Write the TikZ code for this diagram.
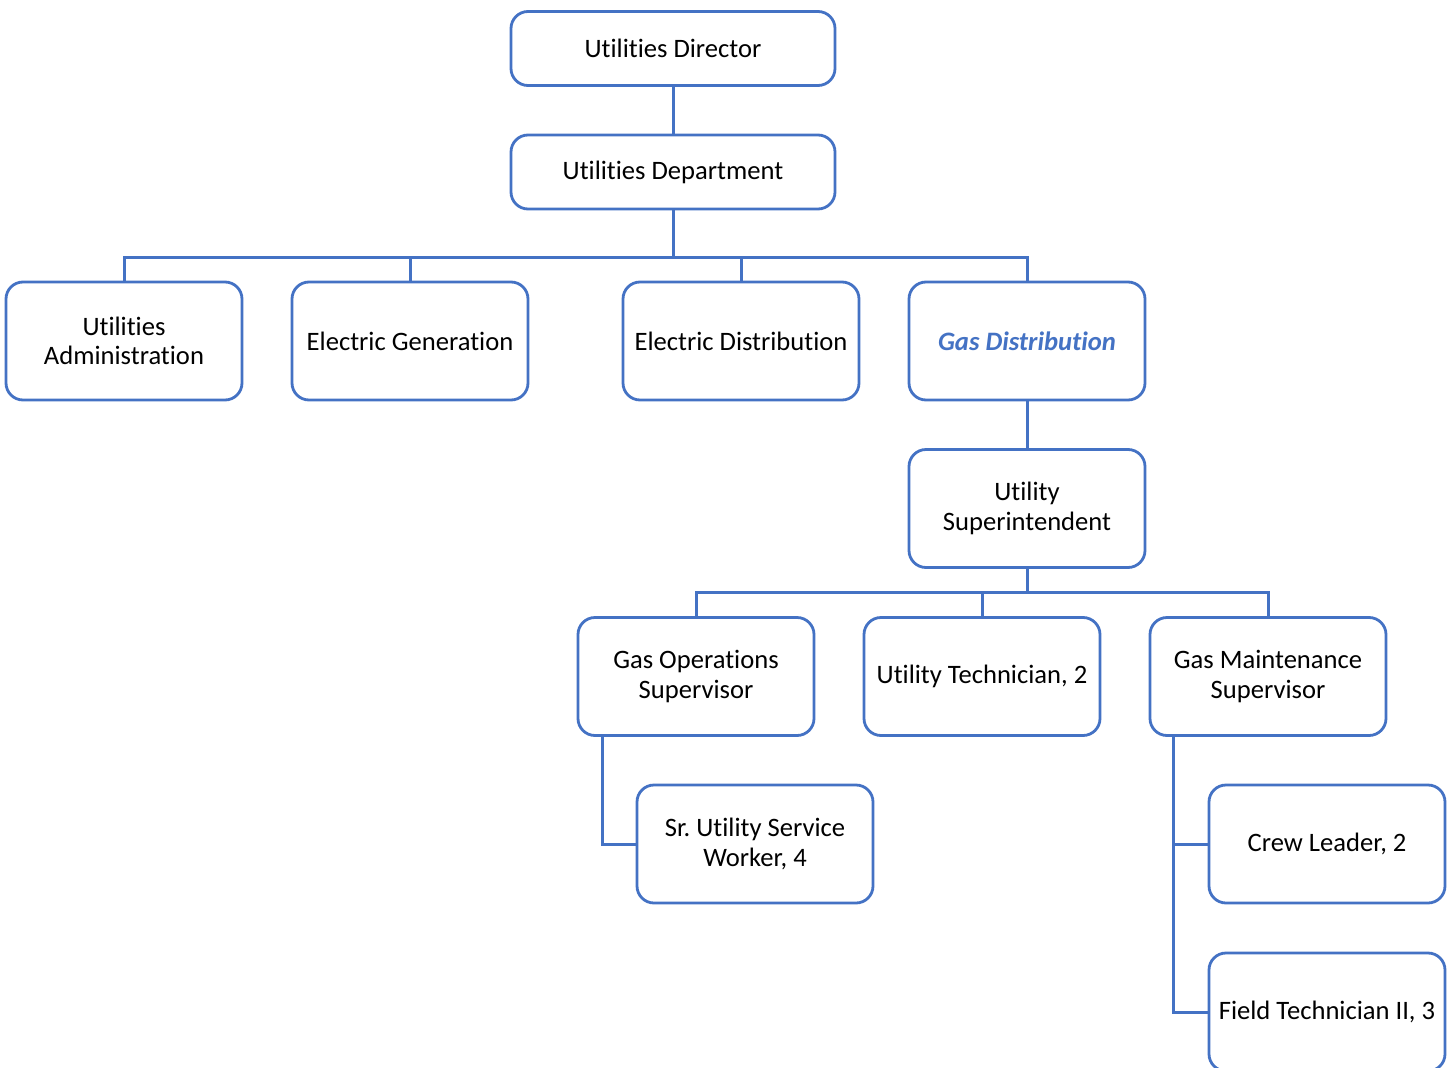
\documentclass[tikz,border=0pt]{standalone}
\usepackage{fontspec}
\setmainfont{Carlito}[Ligatures=NoCommon]
\definecolor{boxblue}{HTML}{4472C4}
\frenchspacing
\begin{document}
\begin{tikzpicture}[x=1pt,y=-1pt,
  unit/.style={draw=boxblue, line width=2.8pt, rounded corners=17pt, fill=white,
    minimum width=236pt, minimum height=118pt, align=center, inner sep=2pt,
    font=\fontsize{26.6}{29.5}\selectfont},
  topunit/.style={unit, minimum width=324pt, minimum height=74pt},
  link/.style={draw=boxblue, line width=3pt}]
\useasboundingbox (0,0) rectangle (1454,1068);

% top of the hierarchy
\node[topunit] (dir) at (673,48.5) {Utilities Director};
\node[topunit] (dept) at (673,172) {Utilities Department};

% divisions
\node[unit] (adm) at (124,341) {Utilities\\Administration};
\node[unit] (gen) at (410,341) {Electric Generation};
\node[unit] (edist) at (741,341) {Electric Distribution};
\node[unit, font=\fontsize{26.6}{29.5}\selectfont\bfseries\itshape, text=boxblue] (gas) at (1027,341) {Gas Distribution};

% gas distribution staff
\node[unit] (sup) at (1027,508.5) {Utility\\Superintendent};
\node[unit] (gops) at (696,676.5) {Gas Operations\\Supervisor};
\node[unit] (tech) at (982,676.5) {Utility Technician, 2};
\node[unit] (gmnt) at (1268,676.5) {Gas Maintenance\\Supervisor};
\node[unit] (srw) at (755,844) {Sr. Utility Service\\Worker, 4};
\node[unit] (crew) at (1327,844) {Crew Leader, 2};
\node[unit] (field) at (1327,1012) {Field Technician II, 3};

% connectors
\draw[link] (dir) -- (dept);
\coordinate (bus1) at (673,257);
\draw[link] (dept) -- (bus1);
\foreach \n in {adm,gen,edist,gas}
  \draw[link] (bus1) -| (\n.north);
\draw[link] (gas) -- (sup);
\coordinate (bus2) at (1027,592);
\draw[link] (sup) -- (bus2);
\foreach \n in {gops,tech,gmnt}
  \draw[link] (bus2) -| (\n.north);
\draw[link] (gops.south -| 602,0) |- (srw.west);
\draw[link] (gmnt.south -| 1173,0) |- (crew.west);
\draw[link] (gmnt.south -| 1173,0) |- (field.west);
\end{tikzpicture}
\end{document}
